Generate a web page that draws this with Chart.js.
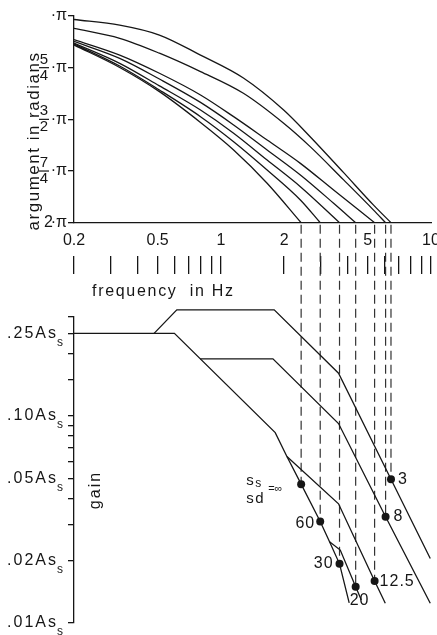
<!DOCTYPE html>
<html>
<head>
<meta charset="utf-8">
<script src="https://cdn.jsdelivr.net/npm/chart.js@4.4.1/dist/chart.umd.min.js"></script>
<style>
  body { margin: 0; background: #fff; }
  #wrap { position: relative; width: 437px; height: 635px; }
  #wrap canvas { position: absolute; left: 0; top: 0; }
</style>
</head>
<body>
<div id="wrap">
  <canvas id="fase" width="437" height="635"></canvas>
  <canvas id="ganho" width="437" height="635"></canvas>
</div>
<script>
/* argumento e ganho em função da frequência, uma curva por s_s/s_d */

// 1. DADOS
const freqTicks = [0.2, 0.3, 0.4, 0.5, 0.6, 0.7, 0.8, 0.9, 1, 2, 3, 4, 5, 6, 7, 8, 9, 10];
const freqLabels = [0.2, 0.5, 1, 2, 5, 10];

const phaseTicks = [1, 1.25, 1.5, 1.75, 2]; // múltiplos de π
const phaseTickText = ['·π', '5/4·π', '3/2·π', '7/4·π', '2·π'];

const gainTicks = [0.01, 0.02, 0.03, 0.04, 0.05, 0.06, 0.07, 0.08, 0.09, 0.1, 0.15, 0.2, 0.25, 0.3];
const gainLabels = [0.25, 0.1, 0.05, 0.02, 0.01];
const gainLabelText = ['.25', '.10', '.05', '.02', '.01'];

const ratios = ['3', '8', '12.5', '20', '30', '60', '∞'];

// argumento (em π) vs frequência (Hz)
const phaseF3 = [0.2, 0.33, 0.51, 0.8, 1.28, 1.99, 2.66, 3.84, 5.33, 6.45];
const phase3 = [1.017, 1.044, 1.092, 1.189, 1.300, 1.455, 1.584, 1.758, 1.915, 2];
const phaseF8 = [0.2, 0.33, 0.51, 0.8, 1.28, 1.99, 2.66, 3.84, 5.33, 6.08];
const phase8 = [1.060, 1.108, 1.180, 1.269, 1.374, 1.519, 1.632, 1.793, 1.939, 2];
const phaseF12 = [0.2, 0.33, 0.51, 0.8, 1.15, 1.66, 2.39, 3.44, 5.39];
const phase12 = [1.114, 1.189, 1.277, 1.382, 1.487, 1.600, 1.713, 1.842, 2];
const phaseF20 = [0.2, 0.33, 0.51, 0.8, 1.15, 1.66, 2.39, 3.44, 4.38];
const phase20 = [1.123, 1.205, 1.305, 1.418, 1.527, 1.648, 1.769, 1.906, 2];
const phaseF30 = [0.2, 0.33, 0.51, 0.8, 1.15, 1.66, 2.39, 3.67];
const phase30 = [1.131, 1.229, 1.338, 1.455, 1.567, 1.697, 1.826, 2];
const phaseF60 = [0.2, 0.33, 0.51, 0.8, 1.15, 1.66, 2.39, 2.97];
const phase60 = [1.135, 1.242, 1.358, 1.487, 1.608, 1.745, 1.890, 2];
const phaseFInf = [0.2, 0.33, 0.51, 0.8, 1.15, 1.66, 2.41];
const phaseInf = [1.140, 1.249, 1.366, 1.515, 1.648, 1.809, 2];

const phaseFreqs = [phaseF3, phaseF8, phaseF12, phaseF20, phaseF30, phaseF60, phaseFInf];
const phaseVals = [phase3, phase8, phase12, phase20, phase30, phase60, phaseInf];

// ganho (em As_s) vs frequência - troncos e ramos do desenho
const gainMainF = [0.2, 0.601, 1.814, 2.062, 2.41, 2.97, 3.29, 3.67, 4.08];
const gainMain = [0.25, 0.25, 0.083, 0.0636, 0.0468, 0.0309, 0.0247, 0.0193, 0.0125];
const gain12F = [2.062, 3.63, 5.39, 6.06];
const gain12 = [0.0636, 0.0376, 0.01596, 0.01245];
const gain20F = [3.29, 3.70, 4.38, 4.66];
const gain20 = [0.0247, 0.0225, 0.01497, 0.0129];
const gain8F = [0.797, 1.769, 3.63, 6.08, 9.92];
const gain8 = [0.1885, 0.1885, 0.0918, 0.0326, 0.01245];
const gain3F = [0.481, 0.617, 1.794, 3.63, 6.45, 9.92];
const gain3 = [0.25, 0.325, 0.325, 0.1606, 0.0494, 0.0205];

// pontos de quebra (onde o argumento chega a 2π)
const cornerF = [2.41, 2.97, 3.67, 4.38, 5.39, 6.08, 6.45];
const cornerG = [0.0468, 0.0309, 0.0193, 0.01497, 0.01596, 0.0326, 0.0494];
const cornerNames = ['∞', '60', '30', '20', '12.5', '8', '3'];

// 2. ESTILO
const INK = '#161616';
const FONT = '"Liberation Sans", Arial, sans-serif';
const cornerLabelPos = { '3': [7, 0, 'left'], '8': [8, 0, 'left'], '12.5': [5, 1, 'left'],
                         '20': [-6, 14, 'left'], '30': [-6, 0, 'right'], '60': [-5, 2, 'right'] };

const pts = (xs, ys) => xs.map((x, i) => ({ x, y: ys[i] }));
const fixTicks = vals => scale => { scale.ticks = vals.map(v => ({ value: v })); };

// 3. RÓTULOS DESENHADOS À MÃO (frações, subscritos, títulos)
const rotulosFase = {
    id: 'rotulosFase',
    afterDraw(chart) {
        const { ctx, scales: { y } } = chart;
        ctx.save();
        ctx.fillStyle = INK; ctx.strokeStyle = INK;
        ctx.textBaseline = 'middle';
        phaseTicks.forEach((v, i) => {
            const py = y.getPixelForValue(v);
            const [coef, pi] = phaseTickText[i].split('·');
            ctx.font = `16px ${FONT}`; ctx.textAlign = 'right';
            ctx.fillText('·' + pi, 67, py);
            if (coef.includes('/')) {
                const [num, den] = coef.split('/');
                ctx.font = `15px ${FONT}`; ctx.textAlign = 'center';
                ctx.fillText(num, 44, py - 8);
                ctx.fillText(den, 44, py + 8);
                ctx.lineWidth = 1.2;
                ctx.beginPath(); ctx.moveTo(39, py); ctx.lineTo(49, py); ctx.stroke();
            } else if (coef) {
                ctx.font = `16px ${FONT}`; ctx.textAlign = 'right';
                ctx.fillText(coef, 53, py);
            }
        });

        ctx.font = `16px ${FONT}`; ctx.letterSpacing = '1.7px'; ctx.textAlign = 'left';
        ctx.fillText('frequency  in Hz', 92, 292);

        ctx.font = `17px ${FONT}`; ctx.letterSpacing = '1.5px'; ctx.textAlign = 'center';
        ctx.translate(34, 141); ctx.rotate(-Math.PI / 2);
        ctx.fillText('argument in radians', 0, 0);
        ctx.restore();
    }
};

const rotulosGanho = {
    id: 'rotulosGanho',
    beforeDatasetsDraw(chart) {
        // tracejado: do eixo 2π (gráfico de cima) até cada ponto de quebra
        const { ctx, scales: { x, y } } = chart;
        const yTop = chartFase.scales.y.getPixelForValue(2);
        ctx.save();
        ctx.strokeStyle = '#333'; ctx.lineWidth = 1.2; ctx.setLineDash([9, 5]);
        cornerF.forEach((f, i) => {
            const px = x.getPixelForValue(f);
            ctx.beginPath(); ctx.moveTo(px, yTop + 2); ctx.lineTo(px, y.getPixelForValue(cornerG[i])); ctx.stroke();
        });
        ctx.restore();
    },
    afterDraw(chart) {
        const { ctx, scales: { x, y } } = chart;
        ctx.save();
        ctx.fillStyle = INK; ctx.textBaseline = 'middle';

        gainLabels.forEach((g, i) => {
            const py = y.getPixelForValue(g);
            ctx.font = `16px ${FONT}`; ctx.letterSpacing = '2px'; ctx.textAlign = 'right';
            ctx.fillText(gainLabelText[i] + 'As', 58, py);
            ctx.font = `12px ${FONT}`; ctx.letterSpacing = '0px'; ctx.textAlign = 'left';
            ctx.fillText('s', 57, py + 9);
        });

        ctx.font = `16px ${FONT}`; ctx.letterSpacing = '1px';
        cornerNames.forEach((n, i) => {
            const pos = cornerLabelPos[n];
            if (!pos) return;
            const px = x.getPixelForValue(cornerF[i]), py = y.getPixelForValue(cornerG[i]);
            ctx.textAlign = pos[2];
            ctx.fillText(n, px + pos[0], py + pos[1]);
        });

        // s_s / s_d = ∞
        const pxI = x.getPixelForValue(cornerF[0]), pyI = y.getPixelForValue(cornerG[0]);
        ctx.letterSpacing = '0px'; ctx.textAlign = 'left';
        ctx.font = `15px ${FONT}`;
        ctx.fillText('s', pxI - 55, pyI - 3);
        ctx.fillText('s', pxI - 55, pyI + 15);
        ctx.fillText('d', pxI - 46, pyI + 15);
        ctx.font = `12px ${FONT}`;
        ctx.fillText('s', pxI - 46, pyI);
        ctx.font = `11px ${FONT}`;
        ctx.fillText('=∞', pxI - 33, pyI + 5);

        ctx.font = `16px ${FONT}`; ctx.letterSpacing = '2px'; ctx.textAlign = 'center';
        ctx.translate(96, 490); ctx.rotate(-Math.PI / 2);
        ctx.fillText('gain', 0, 0);
        ctx.restore();
    }
};

// 4. GRÁFICO DO ARGUMENTO
const chartFase = new Chart(document.getElementById('fase'), {
    type: 'line',
    data: {
        datasets: ratios.map((r, i) => ({
            label: r,
            data: pts(phaseFreqs[i], phaseVals[i]),
            borderColor: INK, borderWidth: 1.3, pointRadius: 0,
            cubicInterpolationMode: 'monotone'
        }))
    },
    options: {
        responsive: false, animation: false, events: [],
        layout: { padding: { top: 16, right: 6, left: 0, bottom: 0 } },
        plugins: { legend: { display: false }, tooltip: { enabled: false } },
        scales: {
            x: {
                type: 'logarithmic', min: 0.2, max: 10, position: 'bottom',
                afterBuildTicks: fixTicks(freqTicks),
                afterFit: s => { s.height = 33.3; s.paddingLeft = 0; s.paddingRight = 0; },
                grid: { display: false, drawTicks: false },
                border: { display: true, color: INK, width: 1.3 },
                ticks: {
                    autoSkip: false, maxRotation: 0, padding: 8, color: INK,
                    font: { family: FONT, size: 16 },
                    callback: v => freqLabels.includes(v) ? String(v) : ''
                }
            },
            x2: {
                type: 'logarithmic', axis: 'x', min: 0.2, max: 10, position: 'bottom',
                afterBuildTicks: fixTicks(freqTicks),
                afterFit: s => { s.height = 379; s.paddingLeft = 0; s.paddingRight = 0; },
                grid: { drawOnChartArea: false, drawTicks: true, tickLength: 18, color: INK, lineWidth: 1.3 },
                border: { display: false },
                ticks: { display: false }
            },
            y: {
                type: 'linear', min: 1, max: 2, reverse: true,
                afterBuildTicks: fixTicks(phaseTicks),
                afterFit: s => { s.width = 74; },
                grid: { drawOnChartArea: false, tickLength: 6, color: INK, lineWidth: 1.3 },
                border: { color: INK, width: 1.3 },
                ticks: { display: false }
            }
        }
    },
    plugins: [rotulosFase]
});

// 5. GRÁFICO DO GANHO
const linhaGanho = (label, fs, gs) => ({
    label, data: pts(fs, gs),
    borderColor: INK, borderWidth: 1.3, pointRadius: 0, tension: 0, clip: false
});

const chartGanho = new Chart(document.getElementById('ganho'), {
    type: 'line',
    data: {
        datasets: [
            linhaGanho('∞', gainMainF, gainMain),
            linhaGanho('12.5', gain12F, gain12),
            linhaGanho('20', gain20F, gain20),
            linhaGanho('8', gain8F, gain8),
            linhaGanho('3', gain3F, gain3),
            {
                label: 'quebras', data: pts(cornerF, cornerG), showLine: false,
                pointRadius: 4, pointBackgroundColor: INK, pointBorderColor: INK, pointBorderWidth: 0, clip: false
            }
        ]
    },
    options: {
        responsive: false, animation: false, events: [],
        layout: { padding: { top: 317, bottom: 12, left: 0, right: 6 } },
        plugins: { legend: { display: false }, tooltip: { enabled: false } },
        scales: {
            x: { type: 'logarithmic', min: 0.2, max: 10, display: false },
            y: {
                type: 'logarithmic', min: 0.01, max: 0.3,
                afterBuildTicks: fixTicks(gainTicks),
                afterFit: s => { s.width = 74; },
                grid: { drawOnChartArea: false, tickLength: 6, color: INK, lineWidth: 1.3 },
                border: { color: INK, width: 1.3 },
                ticks: { display: false }
            }
        }
    },
    plugins: [rotulosGanho]
});
</script>
</body>
</html>
